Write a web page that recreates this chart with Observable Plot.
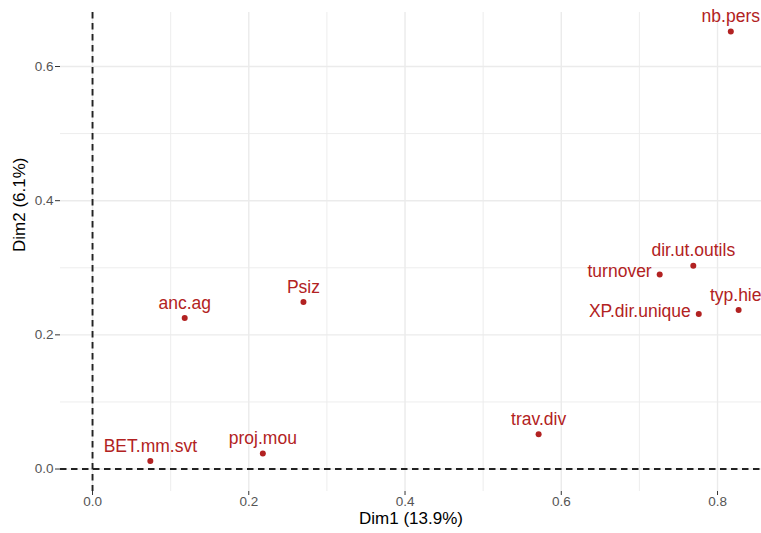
<!DOCTYPE html>
<html>
<head>
<meta charset="utf-8">
<script src="https://cdn.jsdelivr.net/npm/d3@7"></script>
<script src="https://cdn.jsdelivr.net/npm/@observablehq/plot@0.6"></script>
<style>
  html, body { margin: 0; padding: 0; background: white; overflow: hidden; }
  #chart svg { display: block; }
</style>
</head>
<body>
<div id="chart"></div>
<script>
// ---- data ----
const names = ["nb.pers", "dir.ut.outils", "turnover", "XP.dir.unique", "typ.hier",
               "anc.ag", "Psiz", "BET.mm.svt", "proj.mou", "trav.div"];
const dim1 = [0.817, 0.769, 0.726, 0.776, 0.827, 0.118, 0.270, 0.074, 0.218, 0.571];
const dim2 = [0.652, 0.303, 0.290, 0.231, 0.237, 0.225, 0.249, 0.012, 0.023, 0.052];
const xTicks = [0, 0.2, 0.4, 0.6, 0.8];
const yTicks = [0, 0.2, 0.4, 0.6];
const xMinor = [0.1, 0.3, 0.5, 0.7];
const yMinor = [0.1, 0.3, 0.5];
const xTitle = "Dim1 (13.9%)";
const yTitle = "Dim2 (6.1%)";
const leftLabels = new Set(["turnover", "XP.dir.unique"]);

const data = names.map((n, i) => ({name: n, x: dim1[i], y: dim2[i]}));
const red = "#b22222";
const gridCol = "#ebebeb";
const tickCol = "#555555";
const fmt = d3.format(".1f");
const font = "'Liberation Sans', Arial, sans-serif";

const chart = Plot.plot({
  width: 761,
  height: 533,
  marginLeft: 60,
  marginRight: 0,
  marginTop: 12,
  marginBottom: 42,
  style: {fontFamily: font, fontSize: "13.5px", color: "#333333", background: "white"},
  x: {domain: [-0.041, 0.8563], ticks: xTicks, tickFormat: () => "", tickSize: 4, tickPadding: 0, label: null},
  y: {domain: [-0.0335, 0.6805], ticks: yTicks, tickFormat: () => "", tickSize: 5, tickPadding: 0, label: null},
  marks: [
    Plot.ruleX(xMinor, {stroke: gridCol, strokeWidth: 0.9}),
    Plot.ruleY(yMinor, {stroke: gridCol, strokeWidth: 0.9}),
    Plot.ruleX(xTicks, {stroke: gridCol, strokeWidth: 1.4}),
    Plot.ruleY(yTicks, {stroke: gridCol, strokeWidth: 1.4}),
    Plot.ruleX([0], {stroke: "#222", strokeWidth: 1.9, strokeDasharray: "6.5,4.5"}),
    Plot.ruleY([0], {stroke: "#222", strokeWidth: 1.9, strokeDasharray: "6.5,4.5"}),
    // tick labels
    Plot.text(xTicks, {x: d => d, frameAnchor: "bottom", dy: 14, text: d => fmt(d), fill: tickCol, fontSize: 13.5}),
    Plot.text(yTicks, {y: d => d, frameAnchor: "left", dx: -7, textAnchor: "end", text: d => fmt(d), fill: tickCol, fontSize: 13.5}),
    Plot.dot(data, {x: "x", y: "y", r: 3, fill: red, stroke: "none"}),
    Plot.text(data.filter(d => !leftLabels.has(d.name)), {
      x: "x", y: "y", text: "name", dy: -15, fill: red, fontSize: 17.5
    }),
    Plot.text(data.filter(d => leftLabels.has(d.name)), {
      x: "x", y: "y", text: "name", dx: -8, dy: -3, textAnchor: "end", fill: red, fontSize: 17.5
    }),
    Plot.text([xTitle], {frameAnchor: "bottom", dy: 32, fill: "black", fontSize: 17}),
    Plot.text([yTitle], {frameAnchor: "left", dx: -41, rotate: -90, fill: "black", fontSize: 17})
  ]
});
document.getElementById("chart").appendChild(chart);
</script>
</body>
</html>
